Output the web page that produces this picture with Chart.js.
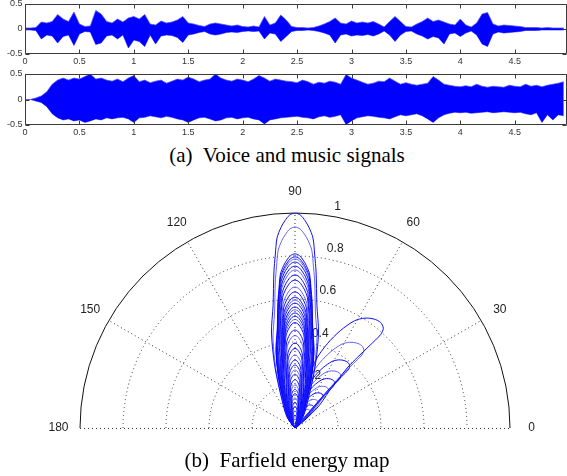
<!DOCTYPE html>
<html><head><meta charset="utf-8">
<script src="https://cdn.jsdelivr.net/npm/chart.js@4.4.1/dist/chart.umd.min.js"></script>
<style>
html,body{margin:0;padding:0;background:#fff;width:567px;height:476px;overflow:hidden;position:relative;}
canvas{position:absolute;left:0;}
.cap{position:absolute;left:0;width:574px;text-align:center;font-family:"Liberation Serif","Times New Roman",serif;font-size:21px;line-height:24px;color:#000;white-space:pre;}
</style></head><body>
<canvas id="c1" width="567" height="70" style="top:0"></canvas>
<canvas id="c2" width="567" height="70" style="top:70px"></canvas>
<div class="cap" style="top:143px">(a)  Voice and music signals</div>
<canvas id="c3" width="567" height="301" style="top:175px"></canvas>
<div class="cap" style="top:448px">(b)  Farfield energy map</div>
<script>
// ---------- DATA ----------
const timeStep = 0.05; // seconds between envelope samples
const voiceUpper = [0.02,0.02,0.03,0.14,0.12,0.15,0.29,0.2,0.15,0.34,
 0.1,0.05,0.06,0.37,0.3,0.15,0.12,0.2,0.14,0.22,
 0.25,0.2,0.29,0.1,0.08,0.16,0.12,0.14,0.18,0.25,
 0.12,0.1,0.07,0.05,0.1,0.12,0.1,0.08,0.06,0.08,
 0.05,0.04,0.06,0.04,0.25,0.08,0.12,0.28,0.18,0.05,
 0.03,0.03,0.02,0.03,0.06,0.1,0.15,0.22,0.12,0.1,
 0.16,0.12,0.14,0.12,0.15,0.1,0.04,0.15,0.25,0.15,
 0.05,0.04,0.1,0.15,0.22,0.15,0.18,0.14,0.1,0.08,
 0.2,0.08,0.04,0.12,0.3,0.33,0.1,0.06,0.08,0.07,
 0.06,0.05,0.03,0.03,0.03,0.02,0.03,0.02,0.02,0.02];
const voiceLower = [-0.02,-0.02,-0.03,-0.2,-0.12,-0.14,-0.28,-0.15,-0.12,-0.33,
 -0.1,-0.05,-0.06,-0.31,-0.28,-0.14,-0.12,-0.2,-0.12,-0.38,
 -0.22,-0.25,-0.35,-0.12,-0.3,-0.14,-0.12,-0.13,-0.17,-0.27,
 -0.12,-0.1,-0.07,-0.05,-0.1,-0.12,-0.1,-0.07,-0.06,-0.07,
 -0.05,-0.04,-0.05,-0.04,-0.2,-0.08,-0.1,-0.25,-0.15,-0.05,
 -0.03,-0.03,-0.02,-0.03,-0.05,-0.08,-0.12,-0.28,-0.12,-0.1,
 -0.14,-0.12,-0.13,-0.11,-0.14,-0.1,-0.04,-0.12,-0.25,-0.12,
 -0.05,-0.04,-0.1,-0.14,-0.2,-0.15,-0.18,-0.3,-0.1,-0.08,
 -0.15,-0.08,-0.04,-0.12,-0.3,-0.35,-0.1,-0.06,-0.08,-0.07,
 -0.06,-0.05,-0.03,-0.03,-0.03,-0.02,-0.02,-0.02,-0.02,-0.02];
const musicUpper = [0,0,0.03,0.07,0.15,0.3,0.38,0.42,0.38,0.42,
 0.4,0.45,0.5,0.4,0.42,0.38,0.36,0.4,0.35,0.42,
 0.47,0.35,0.38,0.33,0.36,0.38,0.32,0.36,0.4,0.38,
 0.44,0.4,0.35,0.38,0.4,0.5,0.42,0.38,0.36,0.4,
 0.38,0.35,0.4,0.47,0.42,0.36,0.4,0.38,0.36,0.35,
 0.33,0.38,0.35,0.3,0.34,0.32,0.36,0.34,0.3,0.49,
 0.42,0.38,0.34,0.3,0.32,0.36,0.35,0.42,0.36,0.3,
 0.33,0.3,0.28,0.3,0.32,0.45,0.38,0.3,0.28,0.26,
 0.25,0.27,0.25,0.3,0.26,0.24,0.26,0.25,0.24,0.28,
 0.26,0.25,0.3,0.26,0.28,0.25,0.28,0.3,0.32,0.35];
const musicLower = [0,0,-0.03,-0.06,-0.14,-0.28,-0.36,-0.4,-0.38,-0.42,
 -0.4,-0.45,-0.42,-0.38,-0.4,-0.36,-0.38,-0.36,-0.35,-0.38,
 -0.45,-0.36,-0.35,-0.32,-0.34,-0.36,-0.33,-0.35,-0.38,-0.4,
 -0.45,-0.4,-0.36,-0.35,-0.38,-0.42,-0.4,-0.36,-0.35,-0.38,
 -0.36,-0.35,-0.38,-0.4,-0.48,-0.4,-0.38,-0.36,-0.35,-0.34,
 -0.33,-0.35,-0.36,-0.38,-0.34,-0.32,-0.35,-0.33,-0.3,-0.49,
 -0.42,-0.36,-0.34,-0.32,-0.33,-0.35,-0.36,-0.38,-0.34,-0.3,
 -0.32,-0.3,-0.28,-0.32,-0.38,-0.45,-0.36,-0.3,-0.27,-0.25,
 -0.26,-0.25,-0.27,-0.26,-0.25,-0.24,-0.26,-0.25,-0.24,-0.25,
 -0.26,-0.25,-0.28,-0.3,-0.26,-0.45,-0.3,-0.4,-0.3,-0.32];
const waveXTicks = [0,0.5,1,1.5,2,2.5,3,3.5,4,4.5];
const waveXTickLabels = ['0','0.5','1','1.5','2','2.5','3','3.5','4','4.5'];
const waveYTicks = [-0.5,0,0.5];
const waveYTickLabels = ['-0.5','0','0.5'];
const waveXMax = 4.98;

// Polar farfield map
const mainLobeDirection = 90; // degrees
const mainLobePeaks = [1.0,0.935,0.81,0.796,0.786,0.772,0.753,0.735,0.712,0.688,0.656,0.633,0.609,0.595,0.581,0.563,0.55,0.535,0.52,0.505,0.49,0.456,0.43,0.395,0.37,0.34,0.316,0.293,0.27,0.25,0.225,0.2,0.18,0.16,0.14,0.12,0.1,0.08,0.06];
// [angular offset from lobe axis (deg), radius relative to lobe peak]
const mainLobeShape = [[0,1],[1.5,0.99],[2.8,0.965],[4,0.935],[5.4,0.888],[6.5,0.81],[7.7,0.732],[10.1,0.581],[13.9,0.455],[18.2,0.30],[24.9,0.144],[36,0.063],[45,0]];
// outer side lobe outline [angle deg, radius]
const sideLobeShape = [[80,0.02],[77,0.12],[75,0.22],[73,0.33],[69,0.42],[65,0.5],[61,0.57],[57.5,0.606],[54,0.626],[51,0.632],[48.5,0.62],[47.5,0.59],[47.8,0.52],[48.5,0.44],[49,0.376],[48.3,0.3],[47.4,0.24],[44.5,0.18],[42.4,0.145],[39,0.06],[35,0]];
const sideLobeScales = [1,0.78,0.62,0.52,0.45,0.38,0.32,0.26,0.21,0.17];
const polarRingValues = [0.2,0.4,0.6,0.8];
const polarRingLabels = ['0.2','0.4','0.6','0.8','1'];
const polarSpokeAngles = [30,60,90,120,150];
const polarAngleLabels = [[0,'0'],[30,'30'],[60,'60'],[90,'90'],[120,'120'],[150,'150'],[180,'180']];

// ---------- WAVEFORMS ----------
const BLUE = '#0000ff';
const BLUE_EDGE = 'rgba(80,80,255,0.75)';
function toXY(arr){ return arr.map((v,i)=>({x:i*timeStep, y:v})); }
const waveAxes = {
  id:'waveAxes',
  afterDraw(chart){
    const {ctx, chartArea:a, scales:{x,y}} = chart;
    ctx.save();
    ctx.strokeStyle='#3a3a3a'; ctx.lineWidth=1;
    const L=Math.round(a.left)+0.5, R=Math.round(a.right)-0.5, T=Math.round(a.top)+0.5, B=Math.round(a.bottom)-0.5;
    ctx.beginPath();
    ctx.moveTo(L,T);ctx.lineTo(R,T);ctx.lineTo(R,B);ctx.lineTo(L,B);ctx.closePath();
    waveXTicks.forEach(t=>{const px=Math.round(x.getPixelForValue(t))+0.5;ctx.moveTo(px,B);ctx.lineTo(px,B-4);ctx.moveTo(px,T);ctx.lineTo(px,T+4);});
    waveYTicks.forEach(v=>{const py=Math.round(y.getPixelForValue(v))+0.5;ctx.moveTo(L,py);ctx.lineTo(L+4,py);ctx.moveTo(R,py);ctx.lineTo(R-4,py);});
    ctx.stroke();
    ctx.fillStyle='#333';
    ctx.font='9px "Liberation Sans", Arial, sans-serif';
    ctx.textAlign='center'; ctx.textBaseline='middle';
    waveXTicks.forEach((t,i)=>ctx.fillText(waveXTickLabels[i], x.getPixelForValue(t), a.bottom+7.5));
    ctx.textAlign='right';
    waveYTicks.forEach((v,i)=>ctx.fillText(waveYTickLabels[i], a.left-2.5, y.getPixelForValue(v)));
    ctx.restore();
  }
};
function waveChart(id, up, lo){
  return new Chart(document.getElementById(id), {
    type:'line',
    data:{datasets:[
      {data:toXY(up), borderColor:BLUE_EDGE, backgroundColor:BLUE, borderWidth:1, pointRadius:0, fill:'+1', tension:0},
      {data:toXY(lo), borderColor:BLUE_EDGE, backgroundColor:BLUE, borderWidth:1, pointRadius:0, fill:false, tension:0}
    ]},
    options:{
      responsive:false, animation:false, devicePixelRatio:1,
      layout:{padding:{left:25,right:0,top:4,bottom:id==='c1'?16:15}},
      plugins:{legend:{display:false},tooltip:{enabled:false}},
      scales:{
        x:{type:'linear',min:0,max:waveXMax,display:false},
        y:{min:-0.5,max:0.5,display:false}
      }
    },
    plugins:[waveAxes]
  });
}
waveChart('c1', voiceUpper, voiceLower);
waveChart('c2', musicUpper, musicLower);

// ---------- POLAR ----------
const D2R = Math.PI/180;
function polarPt(theta, r){ return {x:r*Math.cos(theta*D2R), y:r*Math.sin(theta*D2R)}; }
const datasets = [];
mainLobePeaks.forEach((A,i)=>{
  const pts=[];
  for(let k=mainLobeShape.length-1;k>0;k--){ const s=mainLobeShape[k]; pts.push(polarPt(mainLobeDirection+s[0], A*s[1])); }
  mainLobeShape.forEach(s=>pts.push(polarPt(mainLobeDirection-s[0], A*s[1])));
  datasets.push({data:pts, showLine:true, pointRadius:0, borderWidth:1, tension:0.3,
    borderColor: i%3===1 ? 'rgba(70,70,255,0.85)' : 'rgba(0,0,255,0.95)', fill:false});
});
sideLobeScales.forEach((s,i)=>{
  const pts = sideLobeShape.map(p=>polarPt(p[0], s*p[1]));
  datasets.push({data:pts, showLine:true, pointRadius:0, borderWidth:1, tension:0.3,
    borderColor: i%2===1 ? 'rgba(70,70,255,0.85)' : 'rgba(0,0,255,0.95)', fill:false});
});
const polarGrid = {
  id:'polarGrid',
  beforeDatasetsDraw(chart){
    const {ctx, scales:{x,y}} = chart;
    const cx=x.getPixelForValue(0), cy=y.getPixelForValue(0);
    const unit = x.getPixelForValue(1)-cx;
    ctx.save();
    ctx.lineWidth=1; ctx.strokeStyle='#333'; ctx.setLineDash([1,3]);
    polarRingValues.forEach(r=>{ctx.beginPath();ctx.arc(cx,cy,r*unit,Math.PI,2*Math.PI);ctx.stroke();});
    polarSpokeAngles.forEach(t=>{ctx.beginPath();ctx.moveTo(cx,cy);
      ctx.lineTo(x.getPixelForValue(Math.cos(t*D2R)), y.getPixelForValue(Math.sin(t*D2R)));ctx.stroke();});
    ctx.beginPath();ctx.moveTo(x.getPixelForValue(-1),cy+0.5);ctx.lineTo(x.getPixelForValue(1),cy+0.5);ctx.stroke();
    ctx.setLineDash([]); ctx.strokeStyle='#111';
    ctx.beginPath();ctx.arc(cx,cy,unit,Math.PI,2*Math.PI);ctx.stroke();
    ctx.fillStyle='#222'; ctx.font='12px "Liberation Sans", Arial, sans-serif';
    ctx.textAlign='center'; ctx.textBaseline='middle';
    polarAngleLabels.forEach(([t,lab])=>{
      ctx.fillText(lab, x.getPixelForValue(1.1*Math.cos(t*D2R)), y.getPixelForValue(1.1*Math.sin(t*D2R)));
    });
    ctx.textAlign='left';
    [...polarRingValues,1].forEach((r,i)=>{
      ctx.fillText(polarRingLabels[i], x.getPixelForValue(r*Math.cos(80*D2R))+2, y.getPixelForValue(r*Math.sin(80*D2R))-10);
    });
    ctx.restore();
  }
};
new Chart(document.getElementById('c3'), {
  type:'scatter',
  data:{datasets},
  options:{
    responsive:false, animation:false, devicePixelRatio:1,
    layout:{padding:{left:80,right:57,top:38,bottom:48}},
    plugins:{legend:{display:false},tooltip:{enabled:false}},
    scales:{
      x:{type:'linear',min:-1,max:1,display:false},
      y:{type:'linear',min:0,max:1,display:false}
    }
  },
  plugins:[polarGrid]
});
</script>
</body></html>
